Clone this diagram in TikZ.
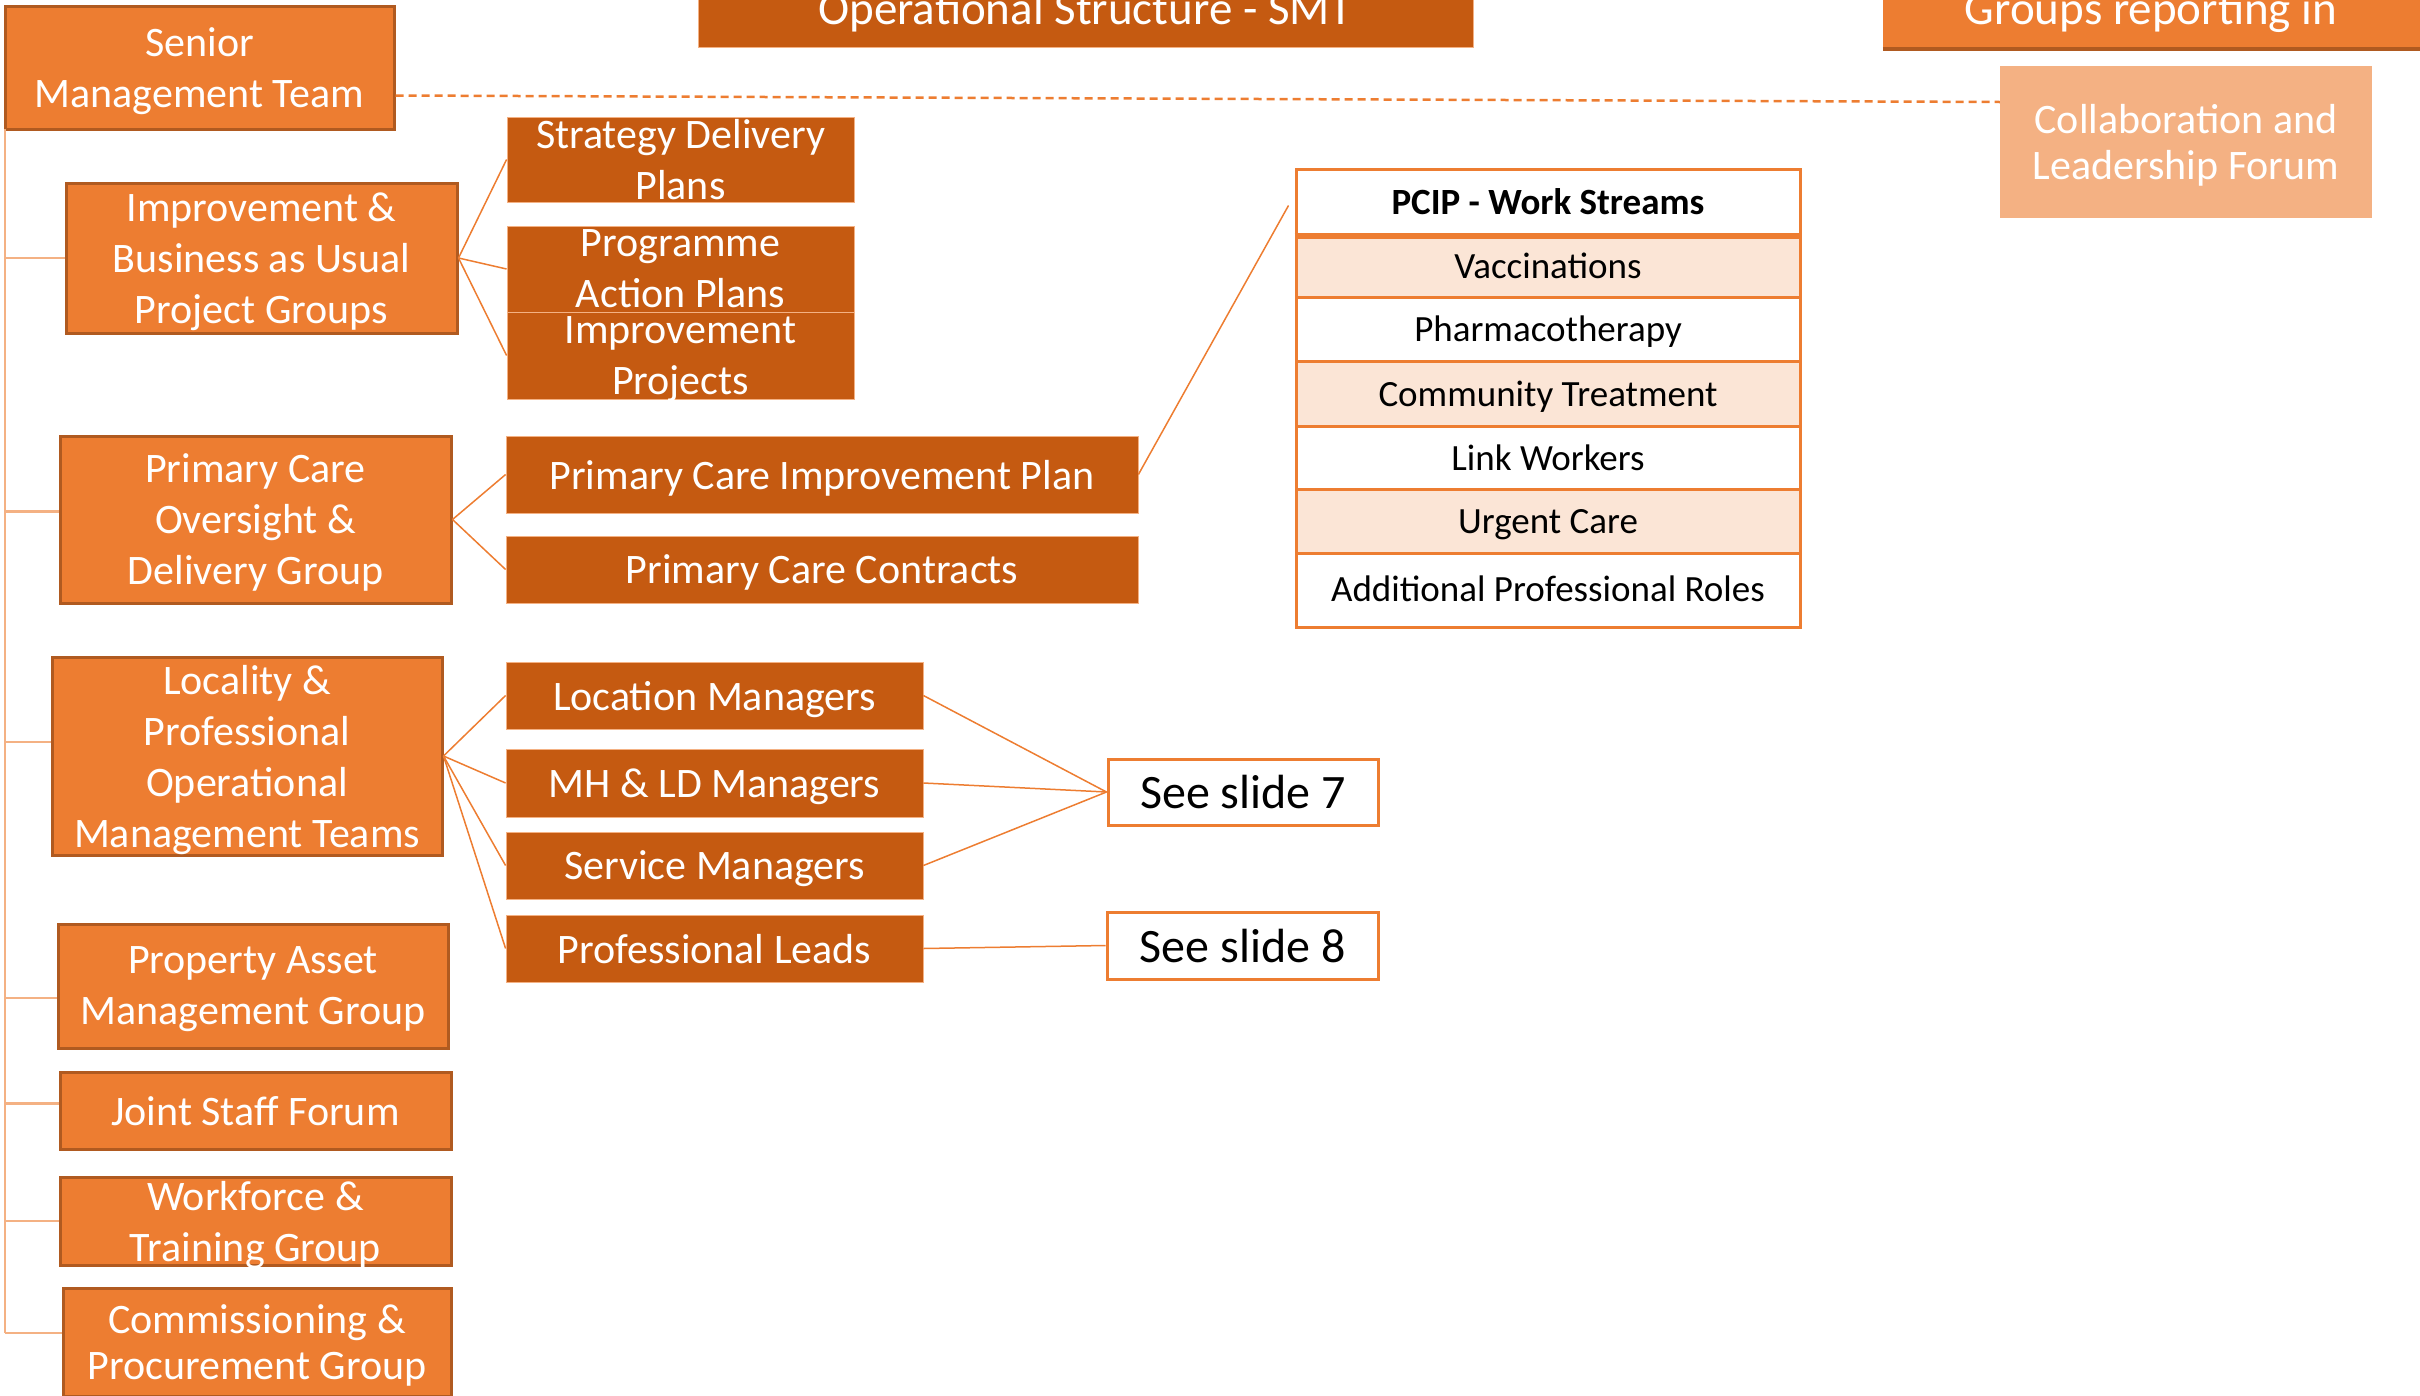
\documentclass[tikz,border=0pt]{standalone}
\usepackage{fontspec}
\setmainfont{Carlito}
\definecolor{acc}{HTML}{ED7D31}
\definecolor{dk}{HTML}{C55A11}
\definecolor{bord}{HTML}{B05A20}
\definecolor{lt}{HTML}{F4B183}
\definecolor{pale}{HTML}{FBE5D6}
\newcommand{\mkbox}[8]{%
  \node[#6, inner sep=0pt, minimum width={(#4-#2)*1pt}, minimum height={(#5-#3)*1pt}] (#1) at ({(#2+#4)/2},{(#3+#5)/2}) {};
  \node[#7] at (#1.center) {#8};}
\begin{document}
\begin{tikzpicture}[x=1pt,y=-1pt,
  ob/.style={fill=acc, draw=bord, line width=3pt},
  db/.style={fill=dk, draw=lt, line width=0.8pt},
  lb/.style={fill=lt, draw=none},
  wb/.style={fill=white, draw=acc, line width=3pt},
  pb/.style={fill=pale, draw=acc, line width=3pt},
  wt/.style={text=white, font=\fontsize{42}{51}\selectfont, align=center, inner sep=0pt, text depth=0pt},
  wtt/.style={text=white, font=\fontsize{42}{46}\selectfont, align=center, inner sep=0pt, text depth=0pt},
  bt/.style={text=black, font=\fontsize{37}{44}\selectfont, align=center, inner sep=0pt, text depth=0pt},
  st/.style={text=black, font=\fontsize{48}{56}\selectfont, align=center, inner sep=0pt, text depth=0pt},
  conn/.style={draw=acc, line width=1.5pt},
  tree/.style={draw=lt, line width=2.2pt}
]
\useasboundingbox (0,0) rectangle (2420,1395);

% top row
\mkbox{smt}{5}{6}{394}{129}{ob}{wt}{Senior\\Management Team}
\node[db, inner sep=0pt, minimum width=775pt, minimum height=110pt] (ops) at (1085.5,-8) {};
\node[text=white, font=\fontsize{47}{56}\selectfont, anchor=base, inner sep=0pt] (opst) at (1085.5,24) {Operational Structure - SMT};
\node[fill=acc, inner sep=0pt, minimum width=545pt, minimum height=110pt] (grp) at (2155.5,-8) {};
\draw[bord, line width=4pt] (grp.south west) ++(0,2) -- ++(545,0);
\node[text=white, font=\fontsize{47}{56}\selectfont, anchor=base, inner sep=0pt] (grpt) at (2151,24) {Groups reporting in};
\mkbox{collab}{2000}{66}{2372}{218}{lb}{wtt}{Collaboration and\\Leadership Forum}

% left column
\mkbox{impr}{66}{183}{457}{333}{ob}{wt}{Improvement \&\\Business as Usual\\Project Groups}
\mkbox{pcod}{60}{436}{451}{603}{ob}{wt}{Primary Care\\Oversight \&\\Delivery Group}
\mkbox{loc}{52}{657}{442}{855}{ob}{wt}{Locality \&\\Professional\\Operational\\Management Teams}
\mkbox{pam}{58}{924}{448}{1048}{ob}{wt}{Property Asset\\Management Group}
\mkbox{jsf}{60}{1072}{451}{1149}{ob}{wt}{Joint Staff Forum}
\mkbox{wtg}{60}{1177}{451}{1265}{ob}{wt}{Workforce \&\\Training Group}
\mkbox{cpg}{63}{1288}{451}{1396}{ob}{wtt}{Commissioning \&\\Procurement Group}

% second column
\mkbox{sdp}{507}{117}{854}{202}{db}{wt}{Strategy Delivery\\Plans}
\mkbox{pap}{507}{226}{854}{312}{db}{wt}{Programme\\Action Plans}
\mkbox{ip}{507}{312}{854}{399}{db}{wt}{Improvement\\Projects}
\mkbox{pcip}{506}{436}{1138}{513}{db}{wt}{Primary Care Improvement Plan}
\mkbox{pcc}{506}{536}{1138}{603}{db}{wt}{Primary Care Contracts}
\mkbox{lm}{506}{662}{923}{729}{db}{wt}{Location Managers}
\mkbox{mh}{506}{749}{923}{817}{db}{wt}{MH \& LD Managers}
\mkbox{sm}{506}{832}{923}{899}{db}{wt}{Service Managers}
\mkbox{pl}{506}{915}{923}{982}{db}{wt}{Professional Leads}

% see slide boxes
\mkbox{s7}{1108}{759}{1378}{825}{wb}{st}{See slide 7}
\mkbox{s8}{1107}{912}{1378}{979}{wb}{st}{See slide 8}

% table
\mkbox{hdr}{1296}{169}{1800}{234}{wb}{bt}{\textbf{PCIP - Work Streams}}
\mkbox{r1}{1296}{234}{1800}{297}{pb}{bt}{Vaccinations}
\mkbox{r2}{1296}{297}{1800}{361}{wb}{bt}{Pharmacotherapy}
\mkbox{r3}{1296}{361}{1800}{426}{pb}{bt}{Community Treatment}
\mkbox{r4}{1296}{426}{1800}{489}{wb}{bt}{Link Workers}
\mkbox{r5}{1296}{489}{1800}{553}{pb}{bt}{Urgent Care}
\mkbox{r6}{1296}{553}{1800}{627}{wb}{bt}{\raisebox{3pt}{Additional Professional Roles}}
\draw[acc, line width=6pt] (hdr.south west) -- (hdr.south east);

% tree trunk and branches
\coordinate (trunk) at (5,129);
\coordinate (trunkend) at (5,1333);
\draw[tree] (trunk) -- (trunkend);
\draw[tree] (trunk |- impr.west) -- (impr.west);
\draw[tree] ([yshift=8pt]pcod.west -| trunk) -- ([yshift=8pt]pcod.west);
\draw[tree] ([yshift=14pt]loc.west -| trunk) -- ([yshift=14pt]loc.west);
\draw[tree] ([yshift=-12pt]pam.west -| trunk) -- ([yshift=-12pt]pam.west);
\draw[tree] ([yshift=7pt]jsf.west -| trunk) -- ([yshift=7pt]jsf.west);
\draw[tree] (wtg.west -| trunk) -- (wtg.west);
\draw[tree] (trunkend) -- (trunkend -| cpg.west);

% dashed link
\draw[acc, line width=2.5pt, dash pattern=on 8pt off 5pt] ([yshift=-28pt]smt.east) -- ([yshift=40pt]collab.west);

% connectors
\draw[conn] (impr.east) -- (sdp.west);
\draw[conn] (impr.east) -- (pap.west);
\draw[conn] (impr.east) -- (ip.west);
\draw[conn] (pcod.east) -- (pcip.west);
\draw[conn] (pcod.east) -- (pcc.west);
\draw[conn] (loc.east) -- (lm.west);
\draw[conn] (loc.east) -- (mh.west);
\draw[conn] (loc.east) -- (sm.west);
\draw[conn] (loc.east) -- (pl.west);
\draw[conn] (lm.east) -- (s7.west);
\draw[conn] (mh.east) -- (s7.west);
\draw[conn] (sm.east) -- (s7.west);
\draw[conn] (pl.east) -- (s8.west);
\coordinate (hdrin) at ([xshift=-6pt,yshift=-4pt]hdr.west);
\draw[conn] (pcip.east) -- (hdrin);
\end{tikzpicture}
\end{document}
